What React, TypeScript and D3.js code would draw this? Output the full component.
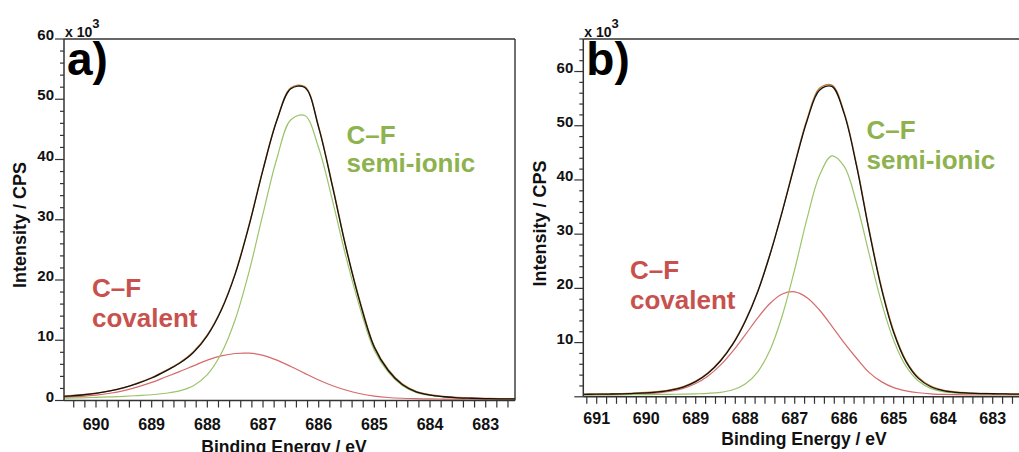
import React from "react";
import * as d3 from "d3";

// ---------- Panel a data (binding energy in eV, intensity in 10^3 CPS) ----------
const energyA = [690.75, 690.5, 690.25, 690.0, 689.75, 689.5, 689.25, 689.0, 688.75, 688.5, 688.25, 688.0, 687.75, 687.5, 687.25, 687.0, 686.75, 686.5, 686.25, 686.0, 685.75, 685.5, 685.25, 685.0, 684.75, 684.5, 684.25, 684.0, 683.75, 683.5, 683.25, 683.0, 682.75, 682.5, 682.25];
const semiIonicA = [0.36, 0.4, 0.45, 0.52, 0.6, 0.7, 0.82, 0.95, 1.2, 1.6, 2.45, 4.3, 7.8, 13.4, 21.4, 31.0, 40.2, 46.6, 47.3, 41.9, 33.1, 23.5, 15.1, 8.3, 4.7, 2.5, 1.35, 0.85, 0.6, 0.45, 0.38, 0.33, 0.3, 0.28, 0.27];
const covalentA = [0.45, 0.55, 0.68, 0.88, 1.2, 1.65, 2.25, 3.0, 3.9, 4.8, 5.75, 6.7, 7.4, 7.8, 7.85, 7.5, 6.7, 5.65, 4.5, 3.4, 2.45, 1.7, 1.12, 0.74, 0.5, 0.37, 0.3, 0.26, 0.24, 0.22, 0.21, 0.2, 0.2, 0.2, 0.2];
const envelopeA = [0.59, 0.73, 0.91, 1.18, 1.58, 2.13, 2.85, 3.73, 4.88, 6.18, 7.98, 10.78, 14.98, 20.98, 29.03, 38.28, 46.5, 51.75, 51.95, 45.3, 35.4, 24.98, 16.0, 8.82, 4.98, 2.65, 1.43, 0.89, 0.62, 0.45, 0.37, 0.31, 0.28, 0.26, 0.25];
const measuredA = [0.62, 0.78, 0.95, 1.22, 1.6, 2.1, 2.9, 3.8, 4.95, 6.25, 8.1, 10.9, 15.1, 21.1, 29.2, 38.4, 46.6, 51.9, 52.1, 45.4, 35.6, 25.1, 16.2, 8.95, 5.1, 2.75, 1.5, 0.95, 0.66, 0.5, 0.4, 0.34, 0.3, 0.28, 0.27];
const xLabelsA = [690, 689, 688, 687, 686, 685, 684, 683];
const yLabelsA = [0, 10, 20, 30, 40, 50, 60];

// ---------- Panel b data ----------
const energyB = [691.5, 691.25, 691.0, 690.75, 690.5, 690.25, 690.0, 689.75, 689.5, 689.25, 689.0, 688.75, 688.5, 688.25, 688.0, 687.75, 687.5, 687.25, 687.0, 686.75, 686.5, 686.25, 686.0, 685.75, 685.5, 685.25, 685.0, 684.75, 684.5, 684.25, 684.0, 683.75, 683.5, 683.25, 683.0, 682.75, 682.5, 682.25];
const semiIonicB = [0.33, 0.34, 0.35, 0.36, 0.37, 0.39, 0.41, 0.43, 0.46, 0.49, 0.55, 0.64, 0.83, 1.3, 2.37, 4.57, 8.6, 15.0, 23.5, 32.9, 40.8, 44.45, 42.5, 35.7, 26.5, 17.5, 10.4, 5.6, 2.9, 1.55, 0.95, 0.68, 0.57, 0.5, 0.47, 0.44, 0.41, 0.39];
const covalentB = [0.36, 0.37, 0.38, 0.4, 0.43, 0.48, 0.57, 0.73, 1.03, 1.56, 2.46, 3.85, 5.83, 8.41, 11.42, 14.52, 17.22, 18.97, 19.36, 18.28, 16.01, 13.05, 9.94, 7.11, 4.5, 2.8, 1.7, 1.1, 0.75, 0.55, 0.45, 0.4, 0.37, 0.35, 0.34, 0.34, 0.33, 0.33];
const envelopeB = [0.44, 0.46, 0.48, 0.51, 0.55, 0.62, 0.73, 0.91, 1.24, 1.8, 2.8, 4.35, 6.6, 9.7, 13.9, 19.3, 26.2, 34.2, 42.8, 50.93, 56.56, 57.25, 52.19, 42.56, 30.75, 20.05, 11.85, 6.45, 3.4, 1.85, 1.15, 0.83, 0.69, 0.6, 0.56, 0.53, 0.49, 0.47];
const measuredB = [0.46, 0.47, 0.5, 0.53, 0.58, 0.66, 0.78, 0.97, 1.3, 1.88, 2.9, 4.45, 6.7, 9.8, 14.0, 19.4, 26.3, 34.3, 43.0, 51.2, 56.9, 57.5, 52.4, 42.8, 31.0, 20.3, 12.1, 6.65, 3.55, 1.95, 1.22, 0.88, 0.72, 0.63, 0.58, 0.55, 0.51, 0.49];
const xLabelsB = [691, 690, 689, 688, 687, 686, 685, 684, 683];
const yLabelsB = [10, 20, 30, 40, 50, 60];

const panelLetters = ["a)", "b)"];
const xTitle = "Binding Energy / eV";
const yTitle = "Intensity / CPS";
const semiLabel = ["C–F", "semi-ionic"];
const covLabel = ["C–F", "covalent"];

const FONT = "'Liberation Sans', Arial, Helvetica, sans-serif";
const C = {
  envelope: "#141414",
  measured: "#c97a30",
  semi: "#9cc46a",
  cov: "#d76a6a",
  semiText: "#8db24e",
  covText: "#c8514e",
  axis: "#333",
  text: "#111",
};

type Cfg = {
  id: string;
  left: number;
  right: number;
  top: number;
  bottom: number;
  xDom: [number, number];
  xRng: [number, number];
  yMax: number;
  energy: number[];
  semi: number[];
  cov: number[];
  env: number[];
  meas: number[];
  xLabels: number[];
  yLabels: number[];
  letter: string;
  xLabelY: number;
  xTitlePos: [number, number];
  yTitlePos: [number, number];
  semiPos: [number, number, number];
  covPos: [number, number, number];
  rightBorder: boolean;
};

function Panel({ c }: { c: Cfg }) {
  const x = d3.scaleLinear().domain(c.xDom).range(c.xRng);
  const y = d3.scaleLinear().domain([0, c.yMax]).range([c.bottom, c.top]);
  const lo = x.invert(c.right);
  const hi = x.invert(c.left);
  const xMinor = d3.range(Math.ceil(lo * 5 - 1e-6), Math.floor(hi * 5 + 1e-6) + 1).map((v) => v / 5);
  const yMinor = d3.range(0, c.yMax + 0.001, 2);
  const mk = (vals: number[]) =>
    d3
      .line<number>()
      .x((_, i) => x(c.energy[i]))
      .y((v) => y(v))
      .curve(d3.curveCatmullRom.alpha(0.5))(vals) || "";

  return (
    <g>
      <defs>
        <clipPath id={c.id}>
          <rect x={c.left} y={c.top} width={c.right - c.left} height={c.bottom - c.top + 1} />
        </clipPath>
      </defs>
      <g clipPath={`url(#${c.id})`} fill="none">
        <path d={mk(c.cov)} stroke={C.cov} strokeWidth={1.2} />
        <path d={mk(c.semi)} stroke={C.semi} strokeWidth={1.2} />
        <path d={mk(c.meas)} stroke={C.measured} strokeWidth={1.4} />
        <path d={mk(c.env)} stroke={C.envelope} strokeWidth={1.3} />
      </g>
      {/* frame */}
      <line x1={c.left} x2={c.right} y1={c.top} y2={c.top} stroke={C.axis} strokeWidth={1.4} />
      {c.rightBorder && <line x1={c.right} x2={c.right} y1={c.top} y2={c.bottom} stroke={C.axis} strokeWidth={1.4} />}
      <line x1={c.left} x2={c.left} y1={c.top} y2={c.bottom} stroke={C.axis} strokeWidth={1.5} />
      <line x1={c.left} x2={c.right} y1={c.bottom} y2={c.bottom} stroke={C.axis} strokeWidth={1.5} />
      {/* y ticks */}
      {yMinor.map((v) => {
        const major = v % 10 === 0;
        return (
          <line key={"yt" + v} x1={c.left - (major ? 9 : 4)} x2={c.left} y1={y(v)} y2={y(v)} stroke={C.axis} strokeWidth={1.2} />
        );
      })}
      {c.yLabels.map((v) => (
        <text key={"yl" + v} x={c.left - 10} y={y(v) + 1} textAnchor="end" fontFamily={FONT} fontWeight="bold" fontSize={15} fill={C.text}>
          {v}
        </text>
      ))}
      {/* x ticks */}
      {xMinor.map((v) => (
        <line key={"xt" + v} x1={x(v)} x2={x(v)} y1={c.bottom} y2={c.bottom + 7} stroke={C.axis} strokeWidth={1.2} />
      ))}
      {c.xLabels.map((v) => (
        <text key={"xl" + v} x={x(v)} y={c.xLabelY} textAnchor="middle" fontFamily={FONT} fontWeight="bold" fontSize={16} fill={C.text}>
          {v}
        </text>
      ))}
      {/* scale multiplier */}
      <text x={c.left + 1} y={c.top - 2} fontFamily={FONT} fontWeight="bold" fontSize={14} fill={C.text}>
        x 10
        <tspan fontSize={13} dy={-9}>3</tspan>
      </text>
      {/* panel letter */}
      <text x={c.left + 3} y={c.top + 36} fontFamily={FONT} fontWeight="bold" fontSize={46} fill="#000">
        {c.letter}
      </text>
      {/* axis titles */}
      <text x={c.xTitlePos[0]} y={c.xTitlePos[1]} textAnchor="middle" fontFamily={FONT} fontWeight="bold" fontSize={17.5} fill={C.text}>
        {xTitle}
      </text>
      <text
        transform={`translate(${c.yTitlePos[0]},${c.yTitlePos[1]}) rotate(-90)`}
        textAnchor="middle"
        fontFamily={FONT}
        fontWeight="bold"
        fontSize={18}
        fill={C.text}
      >
        {yTitle}
      </text>
      {/* component labels */}
      <g fontFamily={FONT} fontWeight="bold" fontSize={26}>
        <text x={c.semiPos[0]} y={c.semiPos[1]} fill={C.semiText}>{semiLabel[0]}</text>
        <text x={c.semiPos[0]} y={c.semiPos[2]} fill={C.semiText}>{semiLabel[1]}</text>
        <text x={c.covPos[0]} y={c.covPos[1]} fill={C.covText}>{covLabel[0]}</text>
        <text x={c.covPos[0]} y={c.covPos[2]} fill={C.covText}>{covLabel[1]}</text>
      </g>
    </g>
  );
}

const panelA: Cfg = {
  id: "clipA",
  left: 64,
  right: 515,
  top: 39,
  bottom: 400.5,
  xDom: [690, 683],
  xRng: [96, 485.7],
  yMax: 60,
  energy: energyA,
  semi: semiIonicA,
  cov: covalentA,
  env: envelopeA,
  meas: measuredA,
  xLabels: xLabelsA,
  yLabels: yLabelsA,
  letter: panelLetters[0],
  xLabelY: 430,
  xTitlePos: [284, 452.5],
  yTitlePos: [25.5, 225],
  semiPos: [346.5, 144, 172],
  covPos: [92, 297, 327],
  rightBorder: true,
};

const panelB: Cfg = {
  id: "clipB",
  left: 583.3,
  right: 1030,
  top: 39,
  bottom: 396.8,
  xDom: [691, 683],
  xRng: [596.7, 992.7],
  yMax: 66,
  energy: energyB,
  semi: semiIonicB,
  cov: covalentB,
  env: envelopeB,
  meas: measuredB,
  xLabels: xLabelsB,
  yLabels: yLabelsB,
  letter: panelLetters[1],
  xLabelY: 424,
  xTitlePos: [804, 445],
  yTitlePos: [546, 223.5],
  semiPos: [866.5, 139, 168.5],
  covPos: [630, 278.5, 308.5],
  rightBorder: false,
};

export default function App() {
  return (
    <svg
      width={1019}
      height={452}
      viewBox="0 0 1019 452"
      style={{ position: "absolute", left: 0, top: 0, background: "#fff" }}
    >
      <rect x={0} y={0} width={1019} height={452} fill="#fff" />
      <Panel c={panelA} />
      <Panel c={panelB} />
    </svg>
  );
}
